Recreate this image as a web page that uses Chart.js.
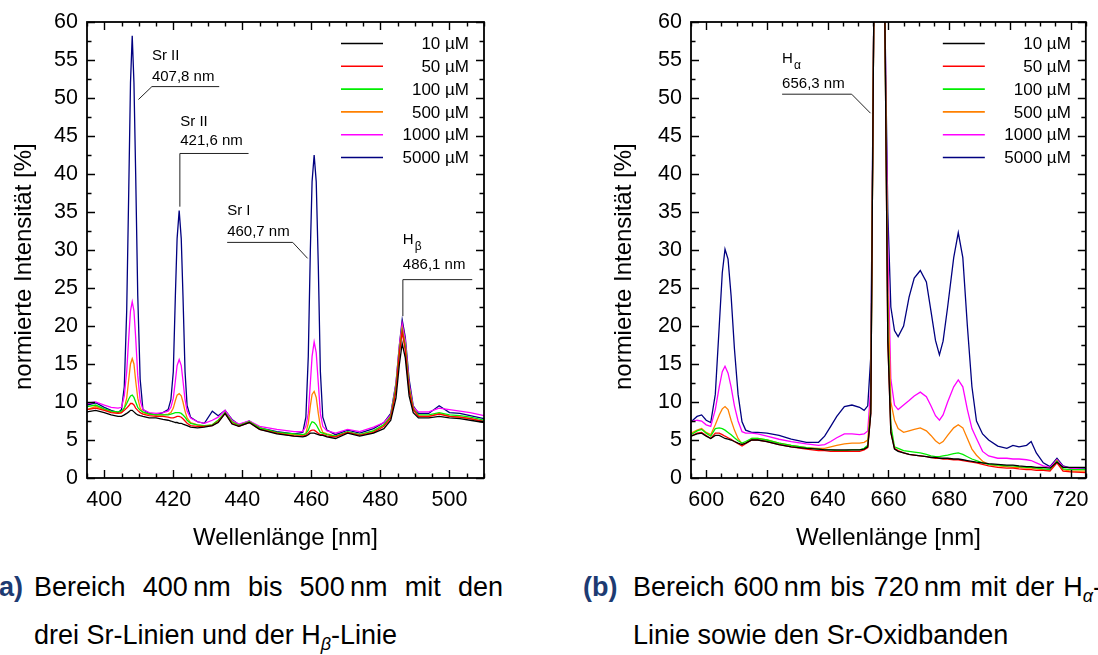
<!DOCTYPE html>
<html>
<head>
<meta charset="utf-8">
<script src="https://cdn.jsdelivr.net/npm/chart.js@4"></script>
<style>
  body { margin: 0; background: #fff; width: 1098px; height: 655px; overflow: hidden; position: relative;
         font-family: "Liberation Sans", Arial, sans-serif; }
  canvas { position: absolute; top: 0; }
  #chartA { left: 0; }
  #chartB { left: 549px; }
  .cap { position: absolute; font-size: 27px; line-height: 30px; white-space: nowrap; color: #000; }
  .lbl { display: inline-block; color: #1d3b72; font-weight: bold; }
  .just { display: inline-block; width: 469px; text-align: justify; text-align-last: justify; white-space: normal; vertical-align: top; }
  sub { font-size: 18px; line-height: 0; }
</style>
</head>
<body>
<canvas id="chartA" width="545" height="560"></canvas>
<canvas id="chartB" width="549" height="560"></canvas>

<div class="cap" style="left:-10px; top:572px;"><span class="lbl" style="width:44px">(a)</span><span class="just">Bereich 400&#8239;nm bis 500&#8239;nm mit den</span></div>
<div class="cap" style="left:34px; top:620px;">drei Sr-Linien und der H<sub><i>β</i></sub>-Linie</div>
<div class="cap" style="left:583px; top:572px;"><span class="lbl" style="width:50px">(b)</span><span class="just">Bereich 600&#8239;nm bis 720&#8239;nm mit der H<sub><i>α</i></sub>-</span></div>
<div class="cap" style="left:633px; top:620px;">Linie sowie den Sr-Oxidbanden</div>

<script>
// series names + colours (same for both panels)
const seriesLabels = ['10 µM', '50 µM', '100 µM', '500 µM', '1000 µM', '5000 µM'];
const seriesColors = ['#000000', '#ff0000', '#00ee00', '#ff8000', '#ff00ff', '#000080'];

// tick labels
const ticksXA = [400, 420, 440, 460, 480, 500];
const ticksXB = [600, 620, 640, 660, 680, 700, 720];
const ticksY = [0, 5, 10, 15, 20, 25, 30, 35, 40, 45, 50, 55, 60];

// panel a : 395 - 510 nm
const waveA = [395, 397.5, 400, 402, 404, 405, 405.8, 406.5, 407.1, 407.6, 408.1, 408.6, 409.1, 409.7, 410.4,
  411.2, 413, 415, 417, 418.5, 419.3, 420, 420.6, 421.1, 421.7, 422.3, 422.8, 423.4, 424, 425,
  427, 429, 431.3, 433, 435, 437, 439, 442, 445, 450, 455, 457.5, 458.4, 459.1, 459.7,
  460.2, 460.8, 461.4, 462, 462.6, 463.3, 464.5, 467, 470.5, 474, 478, 481, 483, 484.5, 485.5,
  486.3, 487.2, 488.3, 489.5, 491, 494, 497, 500, 503, 506, 510];
const a10 = [8.7, 8.9, 8.6, 8.3, 8.1, 8.1, 8.3, 8.5, 8.7, 8.9, 8.9, 8.7, 8.5, 8.3, 8.2,
  8.1, 7.9, 7.9, 7.7, 7.6, 7.5, 7.4, 7.3, 7.3, 7.2, 7.2, 7.1, 7.0, 6.9, 6.7,
  6.6, 6.7, 6.9, 7.3, 8.5, 7.1, 6.8, 7.3, 6.4, 5.8, 5.5, 5.4, 5.5, 5.7, 5.9,
  5.9, 5.9, 5.8, 5.7, 5.6, 5.6, 5.4, 5.2, 5.9, 5.5, 5.9, 6.5, 7.6, 10.5, 15,
  17.7, 15.8, 10.8, 8.6, 7.9, 7.9, 8.1, 7.9, 7.8, 7.6, 7.3];
const a50 = [9.0, 9.2, 8.9, 8.6, 8.5, 8.6, 8.9, 9.2, 9.5, 9.8, 9.8, 9.6, 9.2, 8.9, 8.6,
  8.4, 8.2, 8.1, 8.1, 8.0, 7.9, 7.9, 8.0, 8.1, 8.1, 8.0, 7.8, 7.5, 7.2, 6.9,
  6.8, 6.8, 6.9, 7.4, 8.5, 7.2, 6.8, 7.3, 6.4, 5.9, 5.5, 5.5, 5.6, 5.9, 6.2,
  6.3, 6.3, 6.1, 5.9, 5.7, 5.7, 5.5, 5.4, 6.0, 5.6, 6.0, 6.8, 7.9, 11.5, 16.5,
  19.2, 16.8, 11.5, 9.0, 8.1, 8.1, 8.4, 8.1, 8.0, 7.8, 7.4];
const a100 = [9.4, 9.6, 9.1, 8.8, 8.7, 8.8, 9.2, 9.8, 10.4, 10.8, 10.9, 10.6, 10.0, 9.3, 8.9,
  8.7, 8.4, 8.3, 8.3, 8.3, 8.4, 8.5, 8.6, 8.6, 8.6, 8.5, 8.3, 8.0, 7.6, 7.2,
  7.0, 6.9, 7.0, 7.6, 8.6, 7.4, 6.9, 7.4, 6.6, 6.0, 5.8, 5.7, 5.8, 6.3, 7.0,
  7.4, 7.3, 7.0, 6.5, 6.0, 5.9, 5.7, 5.5, 6.1, 5.7, 6.2, 7.0, 8.1, 12, 16.8,
  19.4, 17.3, 11.8, 9.1, 8.3, 8.3, 8.6, 8.3, 8.2, 8.0, 7.6];
const a500 = [9.0, 9.4, 9.0, 8.7, 8.5, 8.6, 9.2, 10.5, 13, 15, 15.7, 15, 12.8, 10.5, 9.2,
  8.6, 8.4, 8.3, 8.3, 8.4, 8.6, 9.2, 10.2, 10.9, 11.1, 10.8, 10.0, 8.8, 7.9, 7.3,
  7.0, 6.8, 7.0, 7.6, 8.5, 7.4, 6.9, 7.4, 6.6, 5.9, 5.7, 5.6, 5.9, 7.2, 9.5,
  11, 11.4, 10.6, 8.5, 6.8, 6.0, 5.8, 5.5, 6.0, 5.7, 6.2, 7.0, 8.1, 12, 17,
  19.7, 17.5, 12, 9.2, 8.1, 8.1, 8.5, 8.1, 8.0, 7.8, 7.4];
const a1000 = [9.8, 10.0, 9.6, 9.3, 9.2, 9.3, 10.8, 14, 18.5, 22, 23.2, 22, 18.5, 13.5, 10.2,
  9.0, 8.6, 8.5, 8.6, 8.8, 9.3, 10.5, 12.8, 14.8, 15.6, 14.8, 12.8, 10.3, 8.8, 7.9,
  7.4, 7.2, 7.6, 8.0, 8.9, 7.6, 7.1, 7.5, 6.8, 6.4, 6.1, 6.1, 6.8, 8.5, 12.5,
  16, 17.9, 16.5, 12.5, 8.5, 6.8, 6.2, 5.9, 6.4, 6.1, 6.7, 7.3, 8.3, 12.4, 17.5,
  20.3, 18.1, 12.4, 9.3, 8.7, 8.7, 9.2, 9.0, 8.8, 8.6, 8.2];
const a5000 = [9.6, 9.9, 9.3, 8.9, 8.6, 9.0, 12, 22, 38, 52, 58.2, 52, 40, 24, 13,
  9.0, 8.5, 8.3, 8.6, 9.0, 10.3, 14, 24, 31.5, 35.2, 31.5, 24, 14, 9.5, 8.0,
  7.4, 7.2, 8.8, 8.2, 8.9, 7.7, 7.0, 7.5, 6.6, 6.1, 5.8, 6.0, 8, 16, 30,
  39, 42.5, 39, 28, 14, 8, 6.3, 5.7, 6.3, 5.9, 6.5, 7.3, 8.5, 12.5, 17.5,
  20.8, 18.5, 13, 9.5, 8.5, 8.5, 9.5, 8.6, 8.5, 8.2, 7.8];

// panel b : 595 - 725 nm (H-alpha runs far above the axis)
const waveB = [595, 597, 598.5, 600, 601.5, 603, 604.3, 605.3, 606.2, 607.2, 608.2, 609.3, 610.5, 611.8, 613,
  615, 617, 620, 624, 628, 633, 637, 639, 641, 643, 645.5, 648, 650.5, 652, 653.2,
  654.2, 655.2, 656.3, 658.8, 659.8, 660.8, 662, 663.2, 665, 666.8, 668.5, 670.5, 672.5, 674, 675.5,
  676.8, 678, 679.5, 681.5, 683, 684.5, 686, 687.5, 689, 691, 693, 696, 699, 701, 703,
  705.5, 707, 708.7, 711, 713.2, 715.5, 717.5, 720, 725];
const b10 = [5.5, 5.8, 5.9, 5.5, 5.2, 5.6, 5.6, 5.4, 5.2, 5.1, 5.0, 4.8, 4.6, 4.4, 4.6,
  5.0, 5.0, 4.8, 4.4, 4.1, 3.9, 3.8, 3.7, 3.7, 3.7, 3.7, 3.7, 3.7, 3.8, 4.1,
  8.5, 62, 200, 62, 18, 6, 3.8, 3.5, 3.3, 3.1, 3.0, 2.9, 2.8, 2.7, 2.7,
  2.6, 2.6, 2.6, 2.5, 2.5, 2.4, 2.3, 2.2, 2.1, 2.0, 1.9, 1.8, 1.7, 1.7, 1.6,
  1.5, 1.5, 1.4, 1.4, 1.3, 2.1, 1.4, 1.4, 1.4];
const b50 = [5.5, 5.9, 6.0, 5.6, 5.2, 5.9, 5.9, 5.7, 5.5, 5.3, 5.1, 4.8, 4.5, 4.2, 4.5,
  5.0, 5.0, 4.8, 4.4, 4.1, 3.8, 3.6, 3.6, 3.5, 3.5, 3.5, 3.5, 3.5, 3.7, 4.0,
  8.5, 62, 200, 62, 18, 6, 3.9, 3.6, 3.3, 3.1, 3.0, 2.9, 2.8, 2.7, 2.6,
  2.6, 2.5, 2.5, 2.4, 2.4, 2.3, 2.2, 2.1, 2.0, 1.8, 1.6, 1.4, 1.3, 1.3, 1.2,
  1.1, 1.1, 1.0, 1.0, 0.9, 2.0, 0.9, 0.8, 0.7];
const b100 = [5.7, 6.2, 6.4, 5.9, 5.5, 6.5, 6.6, 6.5, 6.3, 6.0, 5.7, 5.3, 4.9, 4.6, 4.8,
  5.2, 5.2, 5.0, 4.6, 4.3, 4.0, 3.8, 3.7, 3.7, 3.6, 3.6, 3.7, 3.7, 3.9, 4.3,
  9, 62, 200, 62, 20, 7, 4.1, 3.9, 3.6, 3.5, 3.4, 3.3, 3.1, 2.9, 2.8,
  2.8, 2.9, 3.0, 3.2, 3.3, 3.1, 2.8, 2.5, 2.3, 2.0, 1.8, 1.7, 1.6, 1.6, 1.5,
  1.4, 1.4, 1.3, 1.2, 1.1, 2.2, 1.2, 1.1, 1.1];
const b500 = [5.9, 6.3, 6.5, 6.0, 5.7, 7.0, 8.3, 9.1, 9.4, 9.0, 7.6, 6.3, 5.2, 4.5, 4.6,
  5.2, 5.2, 5.0, 4.6, 4.3, 4.0, 3.9, 3.9, 4.1, 4.3, 4.5, 4.6, 4.6, 4.7, 5.0,
  10, 62, 200, 62, 25, 10, 7.6, 6.5, 6.0, 6.2, 6.4, 6.6, 6.2, 5.6, 4.9,
  4.5, 4.8, 5.6, 6.6, 7.0, 6.6, 5.2, 3.8, 3.0, 2.2, 1.8, 1.6, 1.5, 1.4, 1.4,
  1.3, 1.3, 1.2, 1.1, 1.0, 2.3, 1.1, 0.9, 0.9];
const b1000 = [7.4, 7.6, 7.5, 7.0, 6.8, 9.0, 12, 14, 14.7, 13.8, 12, 9.5, 7.5, 6.1, 5.9,
  5.9, 5.8, 5.5, 5.1, 4.8, 4.5, 4.3, 4.4, 4.8, 5.3, 5.8, 5.8, 5.7, 5.8, 6.2,
  12, 62, 200, 62, 30, 13, 9.6, 9.0, 9.6, 10.2, 10.8, 11.3, 10.7, 9.5, 8.2,
  7.6, 8.3, 10, 12, 12.9, 12, 9, 6.5, 5.2, 3.5, 2.9, 2.6, 2.6, 2.5, 2.5,
  2.4, 2.3, 2.0, 1.6, 1.4, 2.4, 1.5, 1.3, 1.1];
const b5000 = [7.4, 8.1, 8.3, 7.6, 7.3, 11, 20, 27, 30.1, 28.8, 24, 17, 11, 7.4, 6.3,
  6.0, 6.0, 5.9, 5.6, 5.1, 4.7, 4.7, 5.5, 6.8, 8.1, 9.4, 9.6, 9.3, 8.9, 9.5,
  16, 62, 200, 62, 35, 22.5, 19.4, 18.6, 20, 23.8, 26.3, 27.3, 25.8, 22, 18.1,
  16.2, 18, 22.5, 29, 32.3, 29, 20, 12, 7.5, 5.8, 5.0, 4.2, 3.9, 4.3, 4.1,
  4.3, 4.8, 3.3, 2.0, 1.5, 2.6, 1.6, 1.3, 1.3];

const FONT = '"Liberation Sans", Arial, sans-serif';
Chart.defaults.font.family = FONT;
Chart.defaults.color = '#000';

// axis titles (y title sits a bit below the centre in the original, hence the trailing nbsp)
const xTitle = 'Wellenlänge [nm]';
const yTitle = 'normierte Intensität [%]' + '\u00a0\u00a0\u00a0\u00a0\u00a0';

// line labels with leader lines, given in data units
const notesA = [
  { name: 'Sr II', sub: '', nameX: 413.8, nameY: 55.5, wave: '407,8 nm', waveY: 52.8,
    leader: [[433.3, 51.5], [413.8, 51.5], [409.9, 49.8]] },
  { name: 'Sr II', sub: '', nameX: 422.0, nameY: 46.8, wave: '421,6 nm', waveY: 44.3,
    leader: [[441.8, 42.7], [421.9, 42.7], [421.9, 35.7]] },
  { name: 'Sr I', sub: '', nameX: 435.6, nameY: 35.2, wave: '460,7 nm', waveY: 32.4,
    leader: [[435.6, 31.0], [454.6, 31.0], [458.9, 28.9]] },
  { name: 'H', sub: 'β', nameX: 486.5, nameY: 31.3, wave: '486,1 nm', waveY: 28.0,
    leader: [[506.6, 26.1], [486.5, 26.1], [486.5, 21.3]] }
];
const notesB = [
  { name: 'H', sub: 'α', nameX: 625.0, nameY: 55.2, wave: '656,3 nm', waveY: 51.8,
    leader: [[625.0, 50.5], [647.9, 50.5], [654.1, 48.0]] }
];

// box around the plot with inward ticks on all four sides
const frameTicks = {
  id: 'frameTicks',
  afterDatasetsDraw(chart) {
    const { ctx, chartArea: a, scales: { x, y } } = chart;
    const isMajor = (v, m) => Math.abs(v / m - Math.round(v / m)) < 1e-6;
    ctx.save();
    ctx.strokeStyle = '#000';
    ctx.lineWidth = 1.4;
    ctx.beginPath();
    for (let v = Math.ceil(x.min / 5) * 5; v <= x.max + 1e-6; v += 5) {
      const px = Math.round(x.getPixelForValue(v)) + 0.5;
      const len = isMajor(v, 20) ? 8 : 4.5;
      ctx.moveTo(px, a.bottom); ctx.lineTo(px, a.bottom - len);
      ctx.moveTo(px, a.top); ctx.lineTo(px, a.top + len);
    }
    for (let v = 0; v <= y.max + 1e-6; v += 2.5) {
      const py = Math.round(y.getPixelForValue(v)) + 0.5;
      const len = isMajor(v, 5) ? 8 : 4.5;
      ctx.moveTo(a.left, py); ctx.lineTo(a.left + len, py);
      ctx.moveTo(a.right, py); ctx.lineTo(a.right - len, py);
    }
    ctx.stroke();
    ctx.lineWidth = 1.8;
    ctx.strokeRect(a.left, a.top, a.right - a.left, a.bottom - a.top);
    ctx.restore();
  }
};

// legend drawn inside the plot, line on the left, label right aligned
const innerLegend = {
  id: 'innerLegend',
  afterDatasetsDraw(chart) {
    const { ctx, chartArea: a } = chart;
    ctx.save();
    ctx.font = '17px ' + FONT;
    ctx.textAlign = 'right';
    ctx.textBaseline = 'middle';
    ctx.fillStyle = '#000';
    chart.data.datasets.forEach((ds, i) => {
      const yy = a.top + 21.5 + i * 22.8;
      ctx.strokeStyle = ds.borderColor;
      ctx.lineWidth = 1.6;
      ctx.beginPath();
      ctx.moveTo(a.right - 143, yy);
      ctx.lineTo(a.right - 101, yy);
      ctx.stroke();
      ctx.fillText(ds.label, a.right - 15, yy + 1);
    });
    ctx.restore();
  }
};

const leaderNotes = {
  id: 'leaderNotes',
  afterDatasetsDraw(chart, args, opts) {
    const { ctx, scales: { x, y } } = chart;
    ctx.save();
    ctx.strokeStyle = '#222';
    ctx.lineWidth = 1;
    ctx.fillStyle = '#000';
    ctx.textAlign = 'left';
    ctx.textBaseline = 'middle';
    (opts.notes || []).forEach(n => {
      ctx.beginPath();
      n.leader.forEach((p, k) => {
        const px = x.getPixelForValue(p[0]), py = y.getPixelForValue(p[1]);
        if (k) ctx.lineTo(px, py); else ctx.moveTo(px, py);
      });
      ctx.stroke();
      const tx = x.getPixelForValue(n.nameX);
      const ny = y.getPixelForValue(n.nameY);
      ctx.font = '15px ' + FONT;
      ctx.fillText(n.name, tx, ny);
      if (n.sub) {
        const w = ctx.measureText(n.name).width;
        ctx.font = '12px ' + FONT;
        ctx.fillText(n.sub, tx + w + 1, ny + 7);
        ctx.font = '15px ' + FONT;
      }
      ctx.fillText(n.wave, tx, y.getPixelForValue(n.waveY));
    });
    ctx.restore();
  }
};

function buildDatasets(wave, series) {
  return seriesLabels.map((lab, i) => ({
    label: lab,
    data: wave.map((w, j) => ({ x: w, y: series[i][j] })),
    borderColor: seriesColors[i],
    borderWidth: 1.3,
    pointRadius: 0,
    tension: 0
  }));
}

function makeChart(id, cfg) {
  return new Chart(document.getElementById(id), {
    type: 'line',
    data: { datasets: buildDatasets(cfg.wave, cfg.series) },
    plugins: [frameTicks, innerLegend, leaderNotes],
    options: {
      responsive: false,
      animation: false,
      devicePixelRatio: 1,
      layout: { padding: { top: 22, right: cfg.padRight, bottom: 0, left: 0 } },
      plugins: {
        legend: { display: false },
        tooltip: { enabled: false },
        leaderNotes: { notes: cfg.notes }
      },
      scales: {
        x: {
          type: 'linear',
          min: cfg.xMin,
          max: cfg.xMax,
          afterBuildTicks: s => { s.ticks = cfg.xTicks.map(v => ({ value: v })); },
          afterFit: s => { s.height = 82; },
          ticks: { font: { size: 21.5 }, color: '#000', padding: 9, maxRotation: 0, autoSkip: false },
          grid: { display: false, drawTicks: false },
          border: { display: false },
          title: { display: true, text: xTitle, font: { size: 24 }, color: '#000',
                   padding: { top: 0, bottom: 7 } }
        },
        y: {
          type: 'linear',
          min: 0,
          max: 60,
          afterBuildTicks: s => { s.ticks = ticksY.map(v => ({ value: v })); },
          afterFit: s => { s.width = cfg.yWidth; },
          ticks: { font: { size: 21.5 }, color: '#000', padding: 9, autoSkip: false },
          grid: { display: false, drawTicks: false },
          border: { display: false },
          title: { display: true, text: yTitle, font: { size: 24 }, color: '#000',
                   padding: { top: cfg.yTitlePad, bottom: 0 } }
        }
      }
    }
  });
}

makeChart('chartA', {
  wave: waveA, series: [a10, a50, a100, a500, a1000, a5000],
  xMin: 395, xMax: 510, xTicks: ticksXA, notes: notesA,
  padRight: 61, yWidth: 87, yTitlePad: 10
});

makeChart('chartB', {
  wave: waveB, series: [b10, b50, b100, b500, b1000, b5000],
  xMin: 595, xMax: 725, xTicks: ticksXB, notes: notesB,
  padRight: 11, yWidth: 142, yTitlePad: 61
});
</script>
</body>
</html>
